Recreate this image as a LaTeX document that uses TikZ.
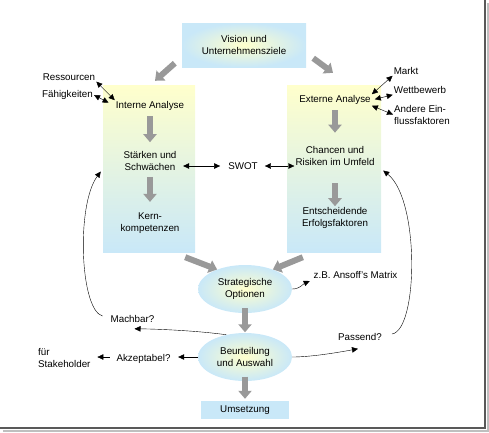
\documentclass[tikz,border=0pt]{standalone}
\usepackage{fontspec}
\setmainfont{Liberation Sans}
\usetikzlibrary{arrows.meta,shapes.geometric,positioning}
\definecolor{paleyellow}{HTML}{FFFFCC}
\definecolor{lightblue}{HTML}{C9E8F8}
\definecolor{fatgray}{HTML}{999999}
\begin{document}
\begin{tikzpicture}[x=1pt,y=-1pt,
  every node/.style={font=\fontsize{9.8}{12}\selectfont, align=center, inner sep=1pt},
  tallbox/.style={rectangle, top color=paleyellow, bottom color=lightblue, minimum width=92pt, minimum height=167pt},
  visbox/.style={rectangle, inner color=paleyellow, outer color=lightblue, minimum width=124pt, minimum height=44pt},
  optell/.style={ellipse, inner color=paleyellow, outer color=lightblue, minimum width=94pt, minimum height=48pt},
  umbox/.style={rectangle, fill=lightblue, minimum width=88pt, minimum height=18pt},
  fat/.style={fatgray, line width=6pt, -{Triangle[length=8pt,width=13pt]}},
  arr/.style={black, thin, -{Triangle[length=6pt,width=5.5pt]}},
  darr/.style={black, thin, {Triangle[length=6pt,width=5.5pt]}-{Triangle[length=6pt,width=5.5pt]}}]
\useasboundingbox (0,0) rectangle (489,432);

\draw[line width=2pt, black!25] (3,430.5) -- (487.5,430.5) -- (487.5,3);
\draw[line width=1.2pt, black!65] (0,428) -- (485,428) -- (485,0);

\node (vis) at (244,45) [visbox] {Vision und\\Unternehmensziele};
\node (ibox) at (149,168.5) [tallbox] {};
\node (ebox) at (334,168.5) [tallbox, minimum width=94pt] {};

\node (ia) at (150,106) {Interne Analyse};
\node (sw) at (150,161) {Stärken und\\Schwächen};
\node (kk) at (150,223) {Kern-\\kompetenzen};
\node (ea) at (335,100) {Externe Analyse};
\node (cr) at (335,156) {Chancen und\\Risiken im Umfeld};
\node (ef) at (335,218) {Entscheidende\\Erfolgsfaktoren};
\node (swot) at (243,166) {SWOT};

\node (res) at (69,77) {Ressourcen};
\node (fae) at (67.5,95) {Fähigkeiten};
\node (mkt) at (406,71) {Markt};
\node (wtb) at (420,90) {Wettbewerb};
\node (andere) at (393,114.5) [anchor=west, align=left] {Andere Ein-\\flussfaktoren};

\node (so) at (245,289) [optell] {Strategische\\Optionen};
\node (bu) at (245,357) [optell] {Beurteilung\\und Auswahl};
\node (um) at (245,410) [umbox] {Umsetzung};
\node (ansoff) at (355.5,275) {z.B. Ansoff's Matrix};
\node (mach) at (132.5,319) {Machbar?};
\node (akz) at (143.5,359) {Akzeptabel?};
\node (fs) at (37,358) [anchor=west, align=left] {für\\Stakeholder};
\node (pas) at (360,337) {Passend?};

\draw[fat] ([shift={(-7,-4)}]vis.south west) -- ([shift={(6,-4)}]ibox.north);
\draw[fat] ([shift={(7,-9)}]vis.south east) -- ([shift={(-1,-12)}]ebox.north);
\draw[fat, shorten <=4.5pt, shorten >=8pt] (ia) -- (sw);
\draw[fat, shorten <=5pt, shorten >=9.5pt] (sw) -- (kk);
\draw[fat, shorten <=4.5pt, shorten >=12.5pt] (ea) -- (cr);
\draw[fat, shorten <=16.5pt] (cr) -- (ef);
\draw[fat] ([shift={(-10,5)}]ibox.south east) -- (so.145);
\draw[fat] ([shift={(16,5)}]ebox.south west) -- (so.35);
\draw[fat, shorten <=-5pt, shorten >=0.5pt] (so.south) -- (bu.north);
\draw[fat, shorten <=-4.5pt, shorten >=2pt] (bu.south) -- (um.north);

\draw[darr, shorten <=5.5pt, shorten >=7pt] (swot.west -| sw.east) -- (swot.west);
\draw[darr, shorten <=6pt] (swot.east) -- (swot.east -| cr.west);
\draw[darr] (res.south east) -- (ia.north west);
\draw[darr, shorten >=7pt] (fae.east) -- (ia.west);
\draw[darr] (mkt.south west) -- (ea.north east);
\draw[darr, shorten >=3pt] (wtb.south west) -- (ea.east);
\draw[darr] (andere.west) -- (ea.south east);

\draw[arr, shorten >=3pt] (so.east) .. controls (300,289) and (303,284) .. (ansoff.south west);
\draw[arr] (bu.130) .. controls (200,331) and (160,329) .. ([shift={(2,5)}]mach.south);
\draw[arr, shorten >=6.5pt] (bu.west) -- (bu.west -| akz.east);
\draw[arr, shorten <=5.5pt, shorten >=5.7pt] (akz.west |- bu.west) -- (fs.east |- bu.west);
\draw[arr] (bu.east) .. controls (310,357) and (335,353) .. ([shift={(-2,7)}]pas.south);
\draw[arr] ([shift={(9,-3)}]pas.east) .. controls (418,330) and (420,200) .. ([shift={(2,2)}]ebox.east);
\draw[arr] ([shift={(-7,-3)}]mach.west) .. controls (80,310) and (76,205) .. ([shift={(-2,3)}]ibox.west);
\end{tikzpicture}
\end{document}
